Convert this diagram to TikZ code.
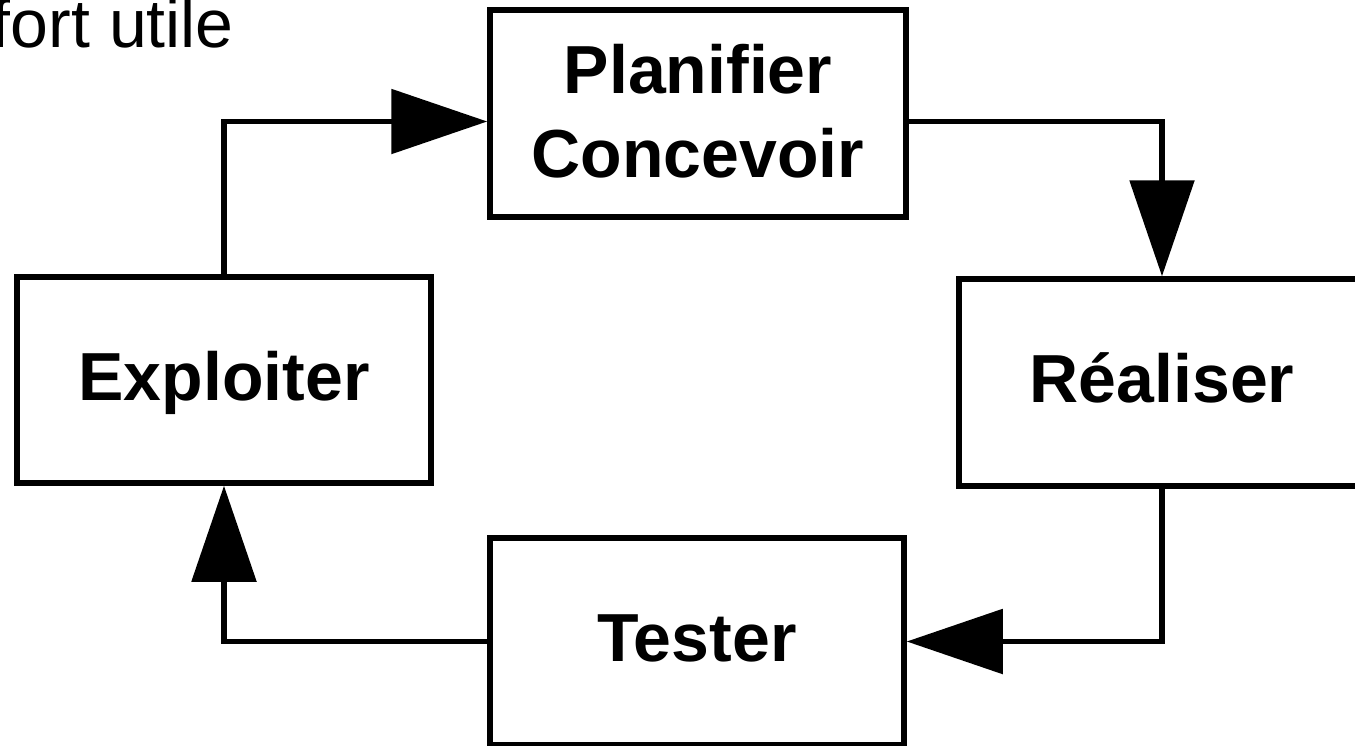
\documentclass[tikz,border=0pt]{standalone}
\usepackage{fontspec}
\setmainfont{Liberation Sans}
\usetikzlibrary{arrows.meta}

\tikzset{
  stagebox/.style={draw, line width=5.5pt, rectangle, inner sep=0pt,
    font=\bfseries\fontsize{68}{84}\selectfont, align=center},
  oneline/.style={text height=52pt, text depth=12pt},
  flow/.style={line width=5.5pt, line join=miter,
    -{Triangle[length=96pt, width=64pt]}}
}

\begin{document}
\begin{tikzpicture}[x=1pt, y=-1pt]
  \useasboundingbox (0,0) rectangle (1355,745);
  \clip (0,0) rectangle (1355,745);

  % caption fragment at top left
  \node[anchor=base east, inner sep=0pt, font=\fontsize{68}{82}\selectfont]
    (note) at (234,47) {fort utile};

  % the four stages of the cycle
  \node[stagebox, text height=134pt, text depth=7pt,
        minimum width=416pt, minimum height=207pt]
    (plan) at (698,113.5) {Planifier\\Concevoir};
  \node[stagebox, oneline, minimum width=406pt, minimum height=207pt]
    (real) at (1162,382.5) {Réaliser};
  \node[stagebox, oneline, minimum width=414pt, minimum height=207pt]
    (test) at (697,641.5) {Tester};
  \node[stagebox, oneline, minimum width=414pt, minimum height=206pt]
    (expl) at (224,380) {Exploiter};

  % level of the upper connectors
  \coordinate (top) at (0,121.5);

  % connectors around the cycle
  \draw[flow] (expl.north) |- (plan.west |- top);
  \draw[flow] (plan.east |- top) -| (real.north);
  \draw[flow] (real.south) |- (test.east);
  \draw[flow] (test.west) -| (expl.south);
\end{tikzpicture}
\end{document}
